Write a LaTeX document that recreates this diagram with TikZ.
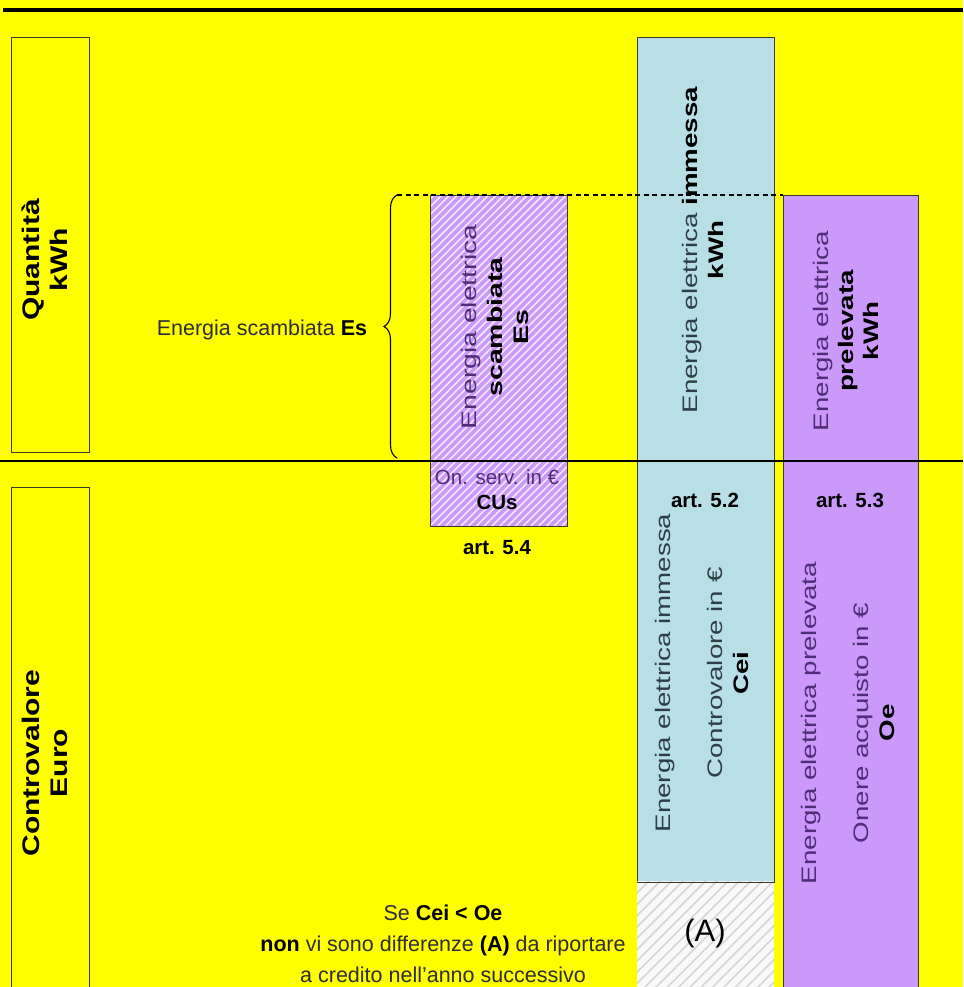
\documentclass[tikz,border=0pt]{standalone}
\usepackage{fontspec}
\setmainfont{Liberation Sans}
\usetikzlibrary{patterns.meta,decorations.pathreplacing}
\definecolor{bgyellow}{HTML}{FFFF00}
\definecolor{boxcyan}{HTML}{B9DFE6}
\definecolor{boxpurple}{HTML}{CB99FA}
\definecolor{bord}{HTML}{3A3A2A}
\definecolor{txtgray}{HTML}{2E2E2E}
\definecolor{txtcyan}{HTML}{2E3E44}
\definecolor{txtpurple}{HTML}{4E2E78}
\definecolor{stripegray}{HTML}{D6D6D6}
\definecolor{stripelav}{HTML}{F2E8FF}
\newcommand{\boldblk}[1]{\textcolor{black}{\textbf{#1}}}
\tikzset{
  box/.style={draw=bord, line width=1.1pt, anchor=north west, inner sep=0pt},
  vlabel/.style={rotate=90, inner sep=0pt},
  hlabel/.style={inner sep=0pt, align=center},
  mainline/.style={line width=2.8pt, black},
}
\begin{document}
\begin{tikzpicture}[x=1pt,y=-1pt]
\clip (0,0) rectangle (963,987);
\fill[bgyellow] (0,0) rectangle (963,987);

% left title boxes
\node[box, minimum width=78pt, minimum height=415pt] (qbox) at (11,37) {};
\node[box, minimum width=78pt, minimum height=520pt] (cbox) at (11,487) {};

% hatched box (scambiata)
\node[box, preaction={fill=boxpurple},
      preaction={pattern={Lines[angle=45,distance=5.5pt,line width=1.6pt]}, pattern color=stripelav},
      minimum width=137pt, minimum height=331pt] (hbox) at (430,195) {};

% cyan box (immessa)
\node[box, fill=boxcyan, minimum width=137pt, minimum height=844pt] (cyan) at (637,37) {};

% (A) box
\node[anchor=north west, inner sep=0pt, minimum width=137pt, minimum height=120pt,
      preaction={fill=white!95!gray},
      preaction={pattern={Lines[angle=45,distance=8pt,line width=1.6pt]}, pattern color=stripegray}] (abox) at (637,881) {};
\draw[bord, line width=1.1pt] (cyan.south west) -- (cyan.south east);

% purple box (prelevata)
\node[box, fill=boxpurple, minimum width=135pt, minimum height=812pt] (pbox) at (783,195) {};

% brace and dashed level line
\coordinate (brtop) at (397,195);
\coordinate (brbot) at (397,458);
\draw[decorate, decoration={brace, amplitude=13pt}, line width=1.1pt] (brbot) -- (brtop);
\draw[line width=1.3pt, dash pattern=on 5pt off 3.5pt] (brtop) -- (pbox.north west);

% horizontal rules
\coordinate (topL) at (3,10);
\coordinate (topR) at (963,10);
\coordinate (midL) at (0,461);
\coordinate (midR) at (963,461);
\draw[mainline, line width=3.2pt] (topL) -- (topR);
\draw[mainline] (midL) -- (midR);

% rotated labels
\node[vlabel] (lq) at (48,260) {\scalebox{1.25}[1]{\fontsize{24}{28}\selectfont\begin{tabular}{@{}c@{}}\textbf{Quantità}\\\textbf{kWh}\end{tabular}}};
\node[vlabel] (lc) at (48,763) {\scalebox{1.25}[1]{\fontsize{24}{28}\selectfont\begin{tabular}{@{}c@{}}\textbf{Controvalore}\\\textbf{Euro}\end{tabular}}};

\node[vlabel, text=txtpurple] (lh) at (497,327) {\scalebox{1.35}[1]{\fontsize{21}{26}\selectfont\begin{tabular}{@{}c@{}}Energia elettrica\\\boldblk{scambiata}\\\boldblk{Es}\end{tabular}}};

\node[vlabel, text=txtcyan] (lci) at (705,250) {\scalebox{1.32}[1]{\fontsize{21}{26}\selectfont\begin{tabular}{@{}c@{}}Energia elettrica \boldblk{immessa}\\\boldblk{kWh}\end{tabular}}};

\node[vlabel, text=txtpurple] (lpp) at (848,331) {\scalebox{1.32}[1]{\fontsize{21}{25}\selectfont\begin{tabular}{@{}c@{}}Energia elettrica\\\boldblk{prelevata}\\\boldblk{kWh}\end{tabular}}};

\node[vlabel, text=txtcyan] (lcb) at (704,673) {\scalebox{1.32}[1]{\fontsize{21}{26}\selectfont\begin{tabular}{@{}c@{}}Energia elettrica immessa\\ \\Controvalore in €\\\boldblk{Cei}\end{tabular}}};

\node[vlabel, text=txtpurple] (lpb) at (850,723) {\scalebox{1.32}[1]{\fontsize{21}{26}\selectfont\begin{tabular}{@{}c@{}}Energia elettrica prelevata\\ \\Onere acquisto in €\\\boldblk{Oe}\end{tabular}}};

% horizontal labels
\node[hlabel, text=txtgray, font=\fontsize{21.5}{26}\selectfont] (les) at (262,330) {Energia scambiata \boldblk{Es}};
\node[hlabel, text=txtpurple, font=\fontsize{20.5}{25}\selectfont] (lcus) at (497,490) {On. serv. in €\\\boldblk{CUs}};
\node[hlabel, font=\fontsize{20.5}{24}\selectfont\bfseries] (a54) at (497,548) {art. 5.4};
\node[hlabel, font=\fontsize{20.5}{24}\selectfont\bfseries] (a52) at (705,500) {art. 5.2};
\node[hlabel, font=\fontsize{20.5}{24}\selectfont\bfseries] (a53) at (850,500) {art. 5.3};
\node[hlabel, font=\fontsize{31}{36}\selectfont] (la) at (705,933) {(A)};
\node[hlabel, text=txtgray, font=\fontsize{21.5}{31}\selectfont] (note) at (443,944) {Se \boldblk{Cei < Oe}\\\boldblk{non} vi sono differenze \boldblk{(A)} da riportare\\a credito nell'anno successivo};
\end{tikzpicture}
\end{document}
